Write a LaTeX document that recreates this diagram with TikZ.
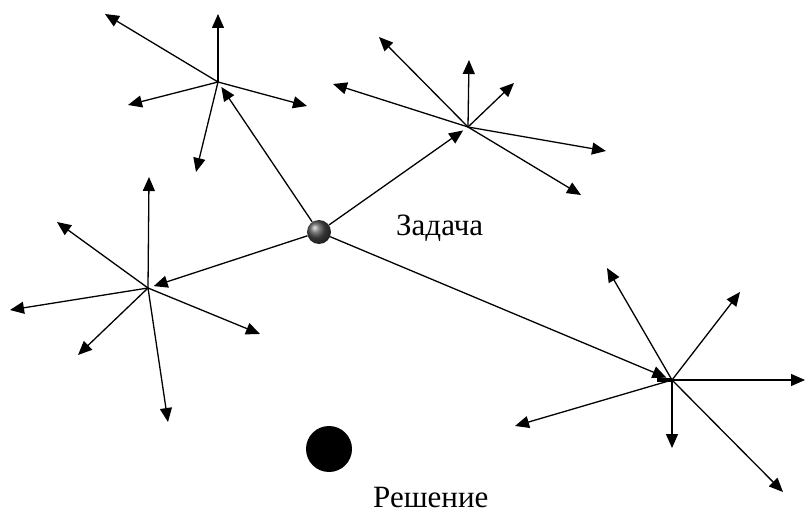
\documentclass[tikz,border=0pt]{standalone}
\usepackage{fontspec}
\setmainfont{Liberation Serif}
\usetikzlibrary{arrows.meta}
\tikzset{
    pfeil/.style={-{Triangle[length=14pt,width=12pt]}, line width=1.3pt},
    kugel/.style={circle, minimum size=24pt, inner sep=0pt, shading=ball, ball color=gray!60!black},
    punkt/.style={circle, fill=black, minimum size=46pt, inner sep=0pt},
    beschriftung/.style={font=\fontsize{31}{33}\selectfont, inner sep=0pt, anchor=base west}
}

\begin{document}
\begin{tikzpicture}[x=1pt, y=-1pt]

\useasboundingbox (0,0) rectangle (806,513);

% Knoten
\coordinate (A) at (218,82);
\coordinate (B) at (468,127);
\coordinate (C) at (148,288);
\coordinate (D) at (672,380);

% Aufgabe und Loesung
\node[kugel] (zadacha) at (319,232) {};
\node[beschriftung] (zadachaText) at (396,236) {Задача};
\node[punkt] (reshenie) at (329,449) {};
\node[beschriftung] (resheniyeText) at (373,507) {Решение};

% Strahlen um A
\foreach \n/\px/\py in {a1/105/14, a2/218/14, a3/128/105, a4/307/106, a5/196/172}{
    \coordinate (\n) at (\px,\py);
    \draw[pfeil] (A) -- (\n);
}

% Strahlen um B
\foreach \n/\px/\py in {b1/379/37, b2/469/60, b3/514/83, b4/333/84, b5/606/151, b6/581/195}{
    \coordinate (\n) at (\px,\py);
    \draw[pfeil] (B) -- (\n);
}

% Strahlen um C
\foreach \n/\px/\py in {c1/149/177, c2/57/222, c3/10/310, c4/78/355, c5/260/334, c6/168/422}{
    \coordinate (\n) at (\px,\py);
    \draw[pfeil] (C) -- (\n);
}

% Strahlen um D
\foreach \n/\px/\py in {d1/607/268, d2/740/292, d3/805/380, d4/515/426, d5/672/448, d6/783/492}{
    \coordinate (\n) at (\px,\py);
    \draw[pfeil] (D) -- (\n);
}

% Wege von der Aufgabe
\foreach \z in {A, B, C, D}
    \draw[pfeil, shorten >=6pt] (zadacha) -- (\z);

% Balken an D
\draw[line width=3.5pt] (657,380) -- (D);

\end{tikzpicture}
\end{document}
